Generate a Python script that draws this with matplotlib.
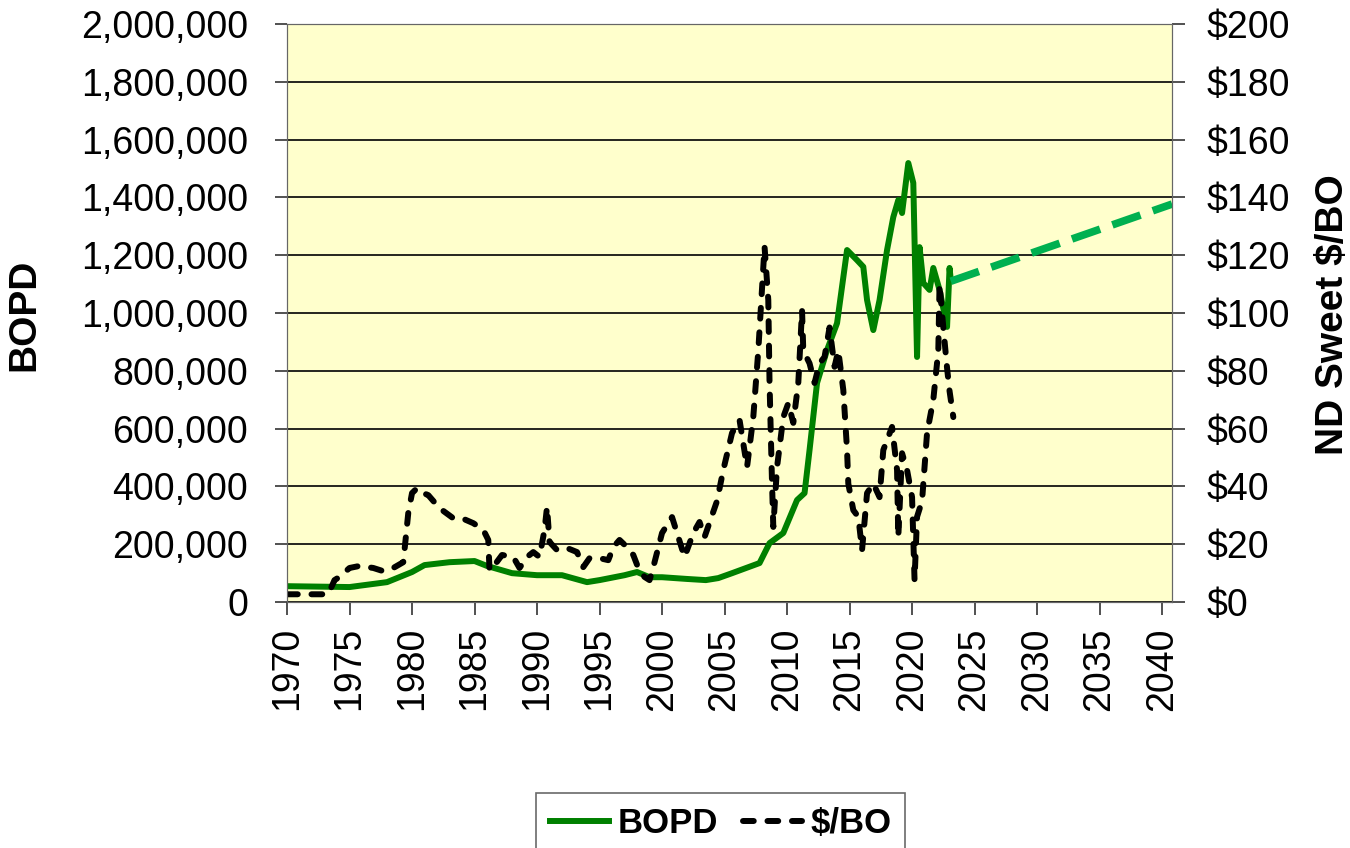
import matplotlib
matplotlib.use("Agg")
import matplotlib.pyplot as plt
from matplotlib.ticker import FuncFormatter

plt.rcParams['font.family'] = ['Liberation Sans', 'DejaVu Sans']

# BOPD (left axis)
bopd_year = [1970, 1975, 1978, 1980, 1981, 1983, 1985, 1986, 1988, 1990, 1992, 1994, 1995,
             1997, 1998, 1999, 2000, 2002, 2003.5, 2004.5, 2005.6, 2007.8, 2008.6, 2009.7,
             2010.8, 2011.4, 2011.8, 2012.4, 2013.2, 2014.0, 2014.8, 2015.6, 2016.1, 2016.4,
             2016.9, 2017.4, 2018.0, 2018.5, 2018.9, 2019.2, 2019.7, 2020.1, 2020.4, 2020.6,
             2020.9, 2021.4, 2021.7, 2022.2, 2022.8, 2023.0, 2023.1]
bopd = [55000, 52000, 69000, 104000, 128000, 138000, 142000, 125000, 100000, 93000, 93000,
        69000, 76000, 93000, 104000, 86000, 86000, 80000, 76000, 83000, 100000, 135000,
        204000, 239000, 353000, 377000, 526000, 758000, 872000, 965000, 1218000, 1183000,
        1160000, 1045000, 941000, 1045000, 1218000, 1332000, 1391000, 1346000, 1519000,
        1450000, 848000, 1228000, 1104000, 1080000, 1156000, 1080000, 952000, 1156000,
        1114000]

# projection
proj_year = [2023.1, 2040.8]
proj_bopd = [1110000, 1377000]

# ND Sweet price (right axis)
price_year = [1970, 1973.3, 1973.8, 1974.2, 1975, 1975.8, 1976.9, 1977.7, 1978.5, 1979.3,
              1979.4, 1979.7, 1980, 1980.4, 1980.9, 1981.3, 1982.2, 1983.3, 1984, 1984.9,
              1985.7, 1986.1, 1986.2, 1986.6, 1987.2, 1988.1, 1988.6, 1989.2, 1989.7, 1990.2,
              1990.6, 1990.8, 1991, 1991.6, 1992.4, 1993.2, 1993.7, 1994.2, 1995, 1995.7,
              1996.1, 1996.6, 1997.2, 1997.7, 1998.1, 1998.6, 1999, 1999.3, 2000, 2000.8,
              2001.3, 2001.8, 2002.5, 2003, 2003.4, 2004.4, 2004.9, 2005.6, 2006.2, 2006.8,
              2007.3, 2007.7, 2008.2, 2008.5, 2008.6, 2008.8, 2008.9, 2009.2, 2009.7, 2010.1,
              2010.5, 2010.9, 2011.2, 2011.3, 2011.8, 2012.2, 2012.6, 2013, 2013.4, 2013.8,
              2014.1, 2014.5, 2014.8, 2014.9, 2015.3, 2015.7, 2016, 2016.4, 2016.9, 2017.4,
              2017.7, 2018.4, 2018.8, 2018.9, 2019.2, 2019.6, 2020, 2020.2, 2020.4, 2020.8,
              2021.2, 2021.7, 2022.1, 2022.2, 2022.5, 2022.8, 2023, 2023.3]
price = [2.7, 2.7, 7.6, 8.7, 11.8, 12.5, 11.8, 10.7, 11.8, 13.8,
         18, 30.8, 37.7, 39.4, 37.7, 37, 32.5, 29, 29, 27.3,
         25, 21.5, 11, 12.8, 16.3, 15.6, 11.8, 15.6, 17.3, 15.6,
         25, 32.9, 20.8, 18, 18.7, 17.3, 12.1, 15.2, 15.2, 14.5,
         19, 21.5, 19, 16.3, 11.8, 8.7, 7.6, 12.1, 23.9, 29.4,
         22.5, 15.6, 23.9, 27.7, 22.5, 35, 45.7, 58.5, 63, 46.7,
         64, 87, 123, 104.5, 75.8, 41, 26, 46.7, 64, 68.8,
         62, 75.8, 101, 87, 82.6, 75.8, 82.6, 84.8, 95, 81.4,
         87, 73.4, 52.6, 41, 31.8, 29.5, 18, 37.7, 41, 36.3,
         52.6, 60.6, 45.7, 22.5, 51.5, 45.7, 36.3, 7.6, 29.5, 35,
         58.5, 70, 87, 110, 95, 81, 73, 64]

fig = plt.figure(figsize=(13.5, 8.48), dpi=100)
ax = fig.add_axes([0.2126, 0.29, 0.6556, 0.6817])
ax.set_facecolor('#ffffcc')
ax2 = ax.twinx()

l1, = ax.plot(bopd_year, bopd, color='#008000', linewidth=4.3, solid_joinstyle='round')
ax.plot(proj_year, proj_bopd, color='#00b050', linewidth=5.5, linestyle=(0, (3.9, 1.7)))
l2, = ax2.plot(price_year, price, color='black', linewidth=4.3, linestyle=(0, (1.8, 2.3)),
               dash_capstyle='round')

ax.set_xlim(1970, 2040.8)
ax.set_ylim(0, 2000000)
ax2.set_ylim(0, 200)
ax.set_xticks(range(1970, 2041, 5))
ax.set_yticks(range(0, 2000001, 200000))
ax2.set_yticks(range(0, 201, 20))
ax.yaxis.set_major_formatter(FuncFormatter(lambda v, p: f"{int(v):,}"))
ax2.yaxis.set_major_formatter(FuncFormatter(lambda v, p: f"${int(v)}"))
ax.grid(axis='y', color='black', linewidth=1.2)
ax.set_axisbelow(True)

for a in (ax, ax2):
    a.tick_params(labelsize=27, length=9, width=1.2, direction='out', color='#333333')
    for s in a.spines.values():
        s.set_color('#666666')
ax.tick_params(axis='x', rotation=90, pad=9)
ax.tick_params(axis='y', pad=19)
ax2.tick_params(axis='y', pad=16)

ax.set_ylabel('BOPD', fontsize=28, fontweight='bold')
ax.yaxis.set_label_coords(-0.2768, 0.497)
ax2.set_ylabel('ND Sweet $/BO', fontsize=28, fontweight='bold')
ax2.yaxis.set_label_coords(1.1616, 0.497)

leg = fig.legend([l1, l2], ['BOPD', '$/BO'], loc='upper center',
                 bbox_to_anchor=(0.534, 0.065), ncol=2, frameon=True, fancybox=False,
                 prop={'size': 25, 'weight': 'bold'}, handlelength=1.7, columnspacing=0.7,
                 handletextpad=0.25, borderpad=0.4, borderaxespad=0)
leg.get_frame().set_edgecolor('#444444')
leg.get_frame().set_linewidth(1.2)

fig.savefig('out.png', dpi=100)
